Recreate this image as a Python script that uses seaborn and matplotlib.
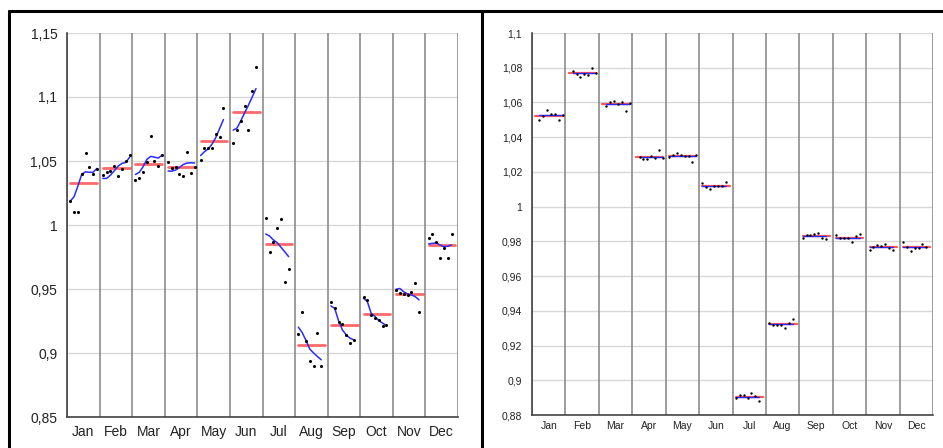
import numpy as np
import pandas as pd
import matplotlib
matplotlib.use("Agg")
import matplotlib.pyplot as plt
from matplotlib.lines import Line2D
from matplotlib.ticker import FuncFormatter, FixedLocator
import seaborn as sns

months = ["Jan", "Feb", "Mar", "Apr", "May", "Jun", "Jul", "Aug", "Sep", "Oct", "Nov", "Dec"]

# ---- left panel: observations per month (one per year) ----
left_values = [
    [1.0187, 1.0104, 1.0101, 1.0395, 1.0564, 1.0450, 1.0395, 1.0437],
    [1.0390, 1.0413, 1.0424, 1.0463, 1.0382, 1.0439, 1.0502, 1.0549],
    [1.0348, 1.0367, 1.0411, 1.0489, 1.0694, 1.0497, 1.0463, 1.0546],
    [1.0494, 1.0447, 1.0452, 1.0395, 1.0385, 1.0569, 1.0408, 1.0455],
    [1.0510, 1.0598, 1.0598, 1.0598, 1.0710, 1.0689, 1.0915],
    [1.0642, 1.0744, 1.0814, 1.0926, 1.0744, 1.1048, 1.1237],
    [1.0052, 0.9792, 0.9870, 0.9979, 1.0047, 0.9558, 0.9654],
    [0.9148, 0.9319, 0.9090, 0.8934, 0.8895, 0.9160, 0.8895],
    [0.9402, 0.9350, 0.9239, 0.9228, 0.9142, 0.9077, 0.9103],
    [0.9441, 0.9415, 0.9298, 0.9272, 0.9254, 0.9213, 0.9220],
    [0.9493, 0.9467, 0.9462, 0.9454, 0.9475, 0.9550, 0.9324],
    [0.9896, 0.9927, 0.9868, 0.9745, 0.9823, 0.9740, 0.9927],
]
# smoothed trend within each month (blue curves)
left_trend = [
    [1.0187, 1.0221, 1.0304, 1.0395, 1.0416, 1.0411, 1.0413, 1.0442],
    [1.0364, 1.0364, 1.0390, 1.0424, 1.0460, 1.0481, 1.0489, 1.0528],
    [1.0395, 1.0411, 1.0455, 1.0512, 1.0536, 1.0530, 1.0523, 1.0546],
    [1.0421, 1.0421, 1.0429, 1.0450, 1.0473, 1.0484, 1.0486, 1.0484],
    [1.0543, 1.0572, 1.0595, 1.0632, 1.0684, 1.0754, 1.0824],
    [1.0741, 1.0757, 1.0814, 1.0876, 1.0936, 1.1001, 1.1066],
    [0.9930, 0.9914, 0.9883, 0.9862, 0.9826, 0.9790, 0.9753],
    [0.9202, 0.9160, 0.9098, 0.9031, 0.9000, 0.8973, 0.8947],
    [0.9368, 0.9348, 0.9252, 0.9181, 0.9142, 0.9116, 0.9103],
    [0.9428, 0.9402, 0.9311, 0.9285, 0.9254, 0.9233, 0.9215],
    [0.9498, 0.9504, 0.9478, 0.9462, 0.9454, 0.9441, 0.9415],
    [0.9852, 0.9857, 0.9860, 0.9844, 0.9831, 0.9834, 0.9844],
]
left_first_slot = [0] * 12

# ---- right panel ----
right_values = [
    [1.0500, 1.0524, 1.0554, 1.0535, 1.0535, 1.0500, 1.0525],
    [1.0779, 1.0762, 1.0746, 1.0764, 1.0756, 1.0800, 1.0768],
    [1.0581, 1.0602, 1.0608, 1.0593, 1.0602, 1.0550, 1.0598],
    [1.0285, 1.0276, 1.0272, 1.0291, 1.0278, 1.0324, 1.0280],
    [1.0285, 1.0295, 1.0308, 1.0299, 1.0291, 1.0291, 1.0255, 1.0295],
    [1.0134, 1.0111, 1.0101, 1.0116, 1.0116, 1.0120, 1.0143],
    [0.8900, 0.8914, 0.8914, 0.8896, 0.8925, 0.8910, 0.8883],
    [0.9330, 0.9317, 0.9317, 0.9321, 0.9302, 0.9332, 0.9352],
    [0.9820, 0.9838, 0.9838, 0.9843, 0.9851, 0.9817, 0.9811],
    [0.9834, 0.9817, 0.9817, 0.9817, 0.9795, 0.9830, 0.9845],
    [0.9749, 0.9770, 0.9780, 0.9774, 0.9784, 0.9759, 0.9753],
    [0.9795, 0.9767, 0.9745, 0.9759, 0.9759, 0.9784, 0.9770],
]
right_trend = [1.0525, 1.0768, 1.0590, 1.0285, 1.0290, 1.0118,
               0.8904, 0.9322, 0.9830, 0.9822, 0.9767, 0.9767]
right_first_slot = [1, 1, 1, 1, 0, 0, 0, 0, 0, 0, 0, 0]

left_yticks = [0.85, 0.9, 0.95, 1.0, 1.05, 1.1, 1.15]
right_yticks = [0.88, 0.9, 0.92, 0.94, 0.96, 0.98, 1.0, 1.02, 1.04, 1.06, 1.08, 1.1]

N_SLOTS = 8
SLOT0, SLOT_STEP = 0.10, 0.117


def slot_x(m, i):
    return m + SLOT0 + i * SLOT_STEP


def build_points(values, first):
    rows = []
    for m, vals in enumerate(values):
        for k, v in enumerate(vals):
            rows.append({"month": months[m], "m": m, "x": slot_x(m, first[m] + k), "value": v})
    return pd.DataFrame(rows)


def comma(v, pos):
    s = "{:g}".format(round(v, 4))
    return s.replace(".", ",")


sns.set_style("white")
plt.rcParams["font.family"] = ["Liberation Sans", "DejaVu Sans"]

fig = plt.figure(figsize=(9.43, 4.48), dpi=100)
W, H = 943, 448


def px_axes(x0, y0, x1, y1):
    return fig.add_axes([x0 / W, 1 - y1 / H, (x1 - x0) / W, (y1 - y0) / H])


axL = px_axes(67, 33, 458, 417)
axR = px_axes(532, 33, 933, 415)

RED = "#ff2a2a"
BLUE = "#2a2aff"


def draw_panel(ax, values, first, trend_df, ylim, yticks, fs, pad_x, dot_s, red_lw, blue_lw, red_alpha):
    pts = build_points(values, first)
    means = pts.groupby("m")["value"].mean()
    red_rows = []
    for m, mu in means.items():
        red_rows.append({"m": m, "x": slot_x(m, 0), "y": mu})
        red_rows.append({"m": m, "x": slot_x(m, N_SLOTS - 1), "y": mu})
    red_df = pd.DataFrame(red_rows)

    # grid
    for t in yticks:
        ax.axhline(t, color="#d8d8d8", lw=1.0, zorder=0)
    for b in range(13):
        ax.axvline(b, color="#8c8c8c", lw=1.2, zorder=0.5)

    sns.lineplot(data=red_df, x="x", y="y", units="m", estimator=None, sort=False,
                 color=RED, alpha=red_alpha, lw=red_lw, ax=ax, zorder=2)
    sns.lineplot(data=trend_df, x="x", y="t", units="m", estimator=None, sort=False,
                 color=BLUE, lw=blue_lw, ax=ax, zorder=3)
    sns.scatterplot(data=pts, x="x", y="value", color="black", s=dot_s,
                    linewidth=0, ax=ax, zorder=4)

    ax.set_xlim(0, 12)
    ax.set_ylim(*ylim)
    ax.set_xlabel("")
    ax.set_ylabel("")
    ax.xaxis.set_major_locator(FixedLocator(range(13)))
    ax.xaxis.set_minor_locator(FixedLocator([m + 0.5 for m in range(12)]))
    ax.set_xticklabels([""] * 13)
    ax.set_xticklabels(months, minor=True)
    ax.tick_params(axis="x", which="major", length=4, width=1, color="#333333", direction="out")
    ax.tick_params(axis="x", which="minor", length=0, pad=pad_x, labelsize=fs, labelcolor="#222222")
    ax.set_yticks(yticks)
    ax.yaxis.set_major_formatter(FuncFormatter(comma))
    ax.tick_params(axis="y", length=4, width=1, color="#333333", direction="out",
                   labelsize=fs, labelcolor="#222222", pad=3)
    for s in ["top", "right"]:
        ax.spines[s].set_visible(False)
    for s in ["left", "bottom"]:
        ax.spines[s].set_color("#444444")
        ax.spines[s].set_linewidth(1.2)
    if ax.get_legend():
        ax.get_legend().remove()


# trend frames
lt_rows = []
for m, vals in enumerate(left_trend):
    for k, v in enumerate(vals):
        lt_rows.append({"m": m, "x": slot_x(m, left_first_slot[m] + k), "t": v})
left_trend_df = pd.DataFrame(lt_rows)

rt_rows = []
for m, v in enumerate(right_trend):
    n = len(right_values[m])
    rt_rows.append({"m": m, "x": slot_x(m, right_first_slot[m]), "t": v})
    rt_rows.append({"m": m, "x": slot_x(m, right_first_slot[m] + n - 1), "t": v})
right_trend_df = pd.DataFrame(rt_rows)

draw_panel(axL, left_values, left_first_slot, left_trend_df, (0.85, 1.15), left_yticks,
           fs=10, pad_x=6, dot_s=5, red_lw=2.0, blue_lw=1.1, red_alpha=0.7)
draw_panel(axR, right_values, right_first_slot, right_trend_df, (0.88, 1.1), right_yticks,
           fs=7.5, pad_x=4, dot_s=3, red_lw=1.6, blue_lw=1.0, red_alpha=0.8)

# black frame lines
fig.add_artist(Line2D([8.5 / W, 8.5 / W], [0, 1 - 11 / H], transform=fig.transFigure,
                      color="black", lw=2.2))
fig.add_artist(Line2D([8.5 / W, 1], [1 - 11 / H, 1 - 11 / H], transform=fig.transFigure,
                      color="black", lw=2.2))
fig.add_artist(Line2D([481.5 / W, 481.5 / W], [0, 1 - 11 / H], transform=fig.transFigure,
                      color="black", lw=2.2))

fig.savefig("out.png", dpi=100)
